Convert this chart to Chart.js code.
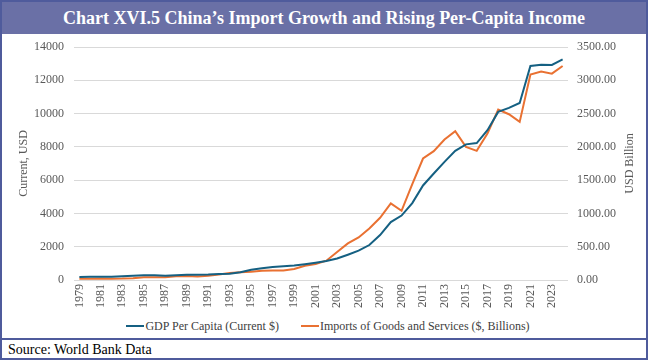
<!DOCTYPE html>
<html>
<head>
<meta charset="utf-8">
<script src="https://cdn.jsdelivr.net/npm/chart.js@4.4.1/dist/chart.umd.min.js"></script>
<style>
  html, body { margin: 0; padding: 0; background: #fff; }
  #frame { position: relative; width: 648px; height: 360px; box-sizing: border-box; border: 2px solid #4f5b9c; overflow: hidden; font-family: "Liberation Serif", "DejaVu Serif", serif; }
  #title { position: absolute; left: 0; top: 0; width: 644px; height: 32px; background: #6a70a6; color: #fff; font-weight: bold; font-size: 18px; line-height: 32px; text-align: center; }
  #chart { position: absolute; left: 0; top: 33px; }
  #legend { position: absolute; left: 4px; top: 316px; width: 644px; text-align: center; font-size: 12px; color: #404040; line-height: 16px; white-space: nowrap; }
  .item { display: inline-block; margin: 0 11px; }
  .swatch { display: inline-block; width: 18px; height: 2px; vertical-align: middle; margin-right: 1px; position: relative; top: -1px; }
  #sourceLine { position: absolute; left: 0; top: 336px; width: 644px; height: 2px; background: #4f5b9c; }
  #source { position: absolute; left: 6px; top: 339px; font-size: 14px; color: #000; line-height: 18px; }
</style>
</head>
<body>
<div id="frame">
  <div id="title">Chart XVI.5 China’s Import Growth and Rising Per-Capita Income</div>
  <canvas id="chart" width="644" height="283"></canvas>
  <div id="legend"></div>
  <div id="sourceLine"></div>
  <div id="source">Source: World Bank Data</div>
</div>
<script>
const years = ["1979","1980","1981","1982","1983","1984","1985","1986","1987","1988","1989","1990","1991","1992","1993","1994","1995","1996","1997","1998","1999","2000","2001","2002","2003","2004","2005","2006","2007","2008","2009","2010","2011","2012","2013","2014","2015","2016","2017","2018","2019","2020","2021","2022","2023","2024"];

const gdpPerCapita = [180,190,195,200,220,250,290,280,250,285,310,320,330,365,375,470,610,700,780,825,865,950,1040,1140,1290,1520,1760,2100,2700,3480,3870,4620,5680,6400,7100,7760,8150,8230,9000,10100,10340,10640,12860,12940,12920,13260];

const importsBn = [18,20,22,19,21,27,43,43,43,55,59,53,64,81,104,116,125,138,143,141,165,215,240,290,420,550,640,775,935,1150,1040,1440,1825,1935,2110,2235,2000,1940,2200,2560,2490,2375,3085,3130,3100,3215];

const leftTicks = [0,2000,4000,6000,8000,10000,12000,14000];
const rightTicks = [0,500,1000,1500,2000,2500,3000,3500];

const seriesNames = ["GDP Per Capita (Current $)", "Imports of Goods and Services ($, Billions)"];
const seriesColors = ["#156082", "#E97132"];

const tickColor = "#595959";
const serif = "'Liberation Serif', 'DejaVu Serif', serif";

const rightTitle = {
  id: 'rightTitle',
  afterDraw(chart) {
    const ctx = chart.ctx;
    const a = chart.chartArea;
    ctx.save();
    ctx.fillStyle = tickColor;
    ctx.font = "12px " + serif;
    ctx.textAlign = 'center';
    ctx.textBaseline = 'middle';
    ctx.translate(628, (a.top + a.bottom) / 2);
    ctx.rotate(-Math.PI / 2);
    ctx.fillText("USD Billion", 0, 0);
    ctx.restore();
  }
};

const noPad = s => { s.paddingTop = 0; s.paddingBottom = 0; };

new Chart(document.getElementById('chart'), {
  type: 'line',
  data: {
    labels: years,
    datasets: [
      { label: seriesNames[0], data: gdpPerCapita, borderColor: seriesColors[0], backgroundColor: seriesColors[0], borderWidth: 2, pointRadius: 0, tension: 0, yAxisID: 'y' },
      { label: seriesNames[1], data: importsBn, borderColor: seriesColors[1], backgroundColor: seriesColors[1], borderWidth: 2, pointRadius: 0, tension: 0, yAxisID: 'y1' }
    ]
  },
  options: {
    responsive: false,
    animation: false,
    devicePixelRatio: 1,
    layout: { padding: { top: 12, bottom: 0, left: 0, right: 0 } },
    plugins: { legend: { display: false }, tooltip: { enabled: false } },
    scales: {
      x: {
        offset: true,
        grid: { display: false, drawTicks: false },
        border: { display: false },
        ticks: {
          autoSkip: false, maxRotation: 90, minRotation: 90, padding: 4,
          color: tickColor, font: { family: serif, size: 12 },
          callback: (v, i) => (i % 2 === 0 ? years[i] : '')
        },
        afterFit: s => { s.height = 38; noPad(s); }
      },
      y: {
        position: 'left', min: 0, max: 14000,
        afterBuildTicks: s => { s.ticks = leftTicks.map(v => ({ value: v })); },
        grid: { color: '#d9d9d9', lineWidth: 1, drawTicks: false },
        border: { display: false },
        ticks: { color: tickColor, padding: 10, font: { family: serif, size: 12 }, callback: v => String(v) },
        title: { display: true, text: 'Current, USD', color: tickColor, font: { family: serif, size: 12 }, padding: { top: 15, bottom: 0 } },
        afterFit: s => { s.width = 72; noPad(s); }
      },
      y1: {
        position: 'right', min: 0, max: 3500,
        afterBuildTicks: s => { s.ticks = rightTicks.map(v => ({ value: v })); },
        grid: { display: false, drawTicks: false },
        border: { display: false },
        ticks: { color: tickColor, padding: 9, font: { family: serif, size: 12 }, callback: v => Number(v).toFixed(2) },
        afterFit: s => { s.width = 78; noPad(s); }
      }
    }
  },
  plugins: [rightTitle]
});

const legend = document.getElementById('legend');
seriesNames.forEach((n, i) => {
  const it = document.createElement('span');
  it.className = 'item';
  const sw = document.createElement('span');
  sw.className = 'swatch';
  sw.style.background = seriesColors[i];
  it.appendChild(sw);
  it.appendChild(document.createTextNode(n));
  legend.appendChild(it);
});
</script>
</body>
</html>
